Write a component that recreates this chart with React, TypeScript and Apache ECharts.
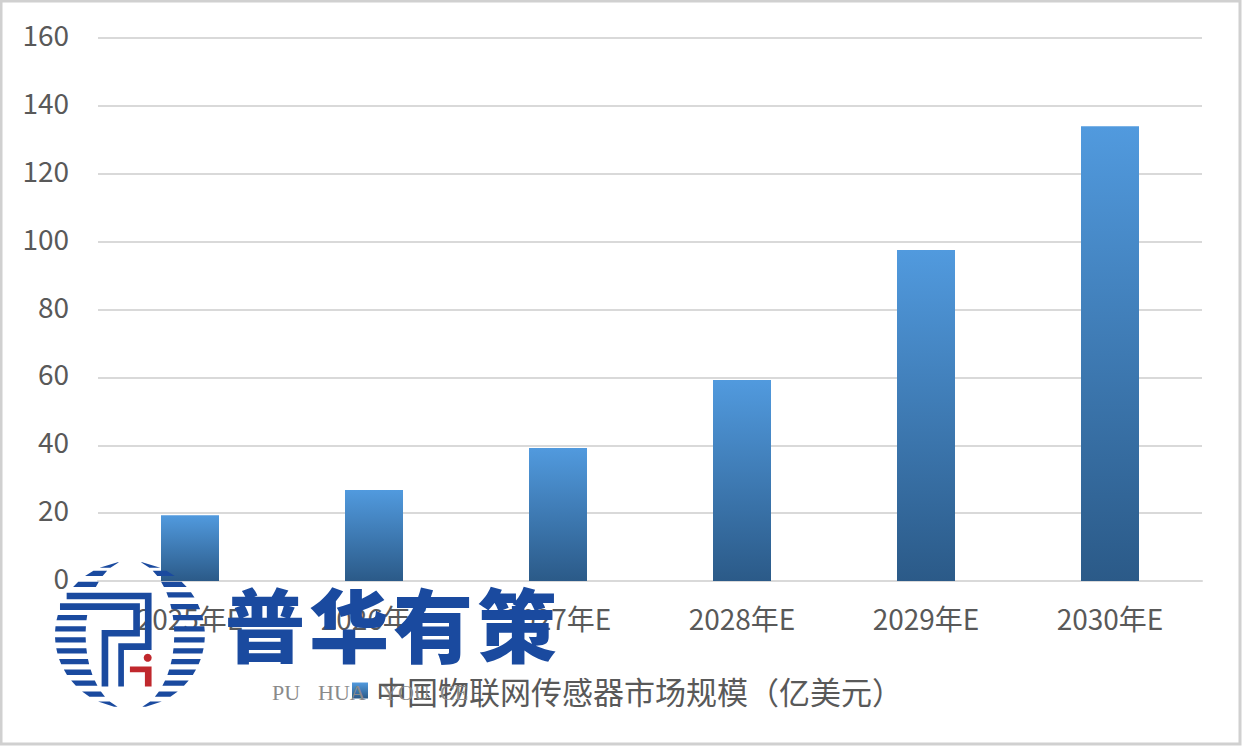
import React, { useEffect, useRef } from "react";
import * as echarts from "echarts";

const categories = ["2025年E", "2026年E", "2027年E", "2028年E", "2029年E", "2030年E"];
const marketSize = [19.4, 26.8, 39.2, 59.2, 97.5, 134];
const seriesName = "中国物联网传感器市场规模（亿美元）";
const logoChars = ["普", "华", "有", "策"];
const logoSubWords = ["PU", "HUA", "YOU", "CE"];
const logoSubX = [272, 318, 382, 440];

const stripeRows = [30, 55, 88, 120, 155, 188, 222, 255, 288, 320, 352, 385, 418, 448];

function stripesPath() {
  const cx = 240, cy = 240;
  const half = (y: number, rx: number, ry: number) => rx * Math.sqrt(Math.max(0, 1 - ((y - cy) / ry) ** 2));
  let d = "";
  for (const r of stripeRows) {
    const y0 = r - 8, y1 = r + 8;
    const o0 = half(y0, 225, 221), o1 = half(y1, 225, 221);
    const i0 = half(y0, 133, 225), i1 = half(y1, 133, 225);
    d += `M${cx + i0} ${y0}L${cx + o0} ${y0}L${cx + o1} ${y1}L${cx + i1} ${y1}Z`;
    if (r !== 120 && r !== 155) {
      d += `M${cx - o0} ${y0}L${cx - i0} ${y0}L${cx - i1} ${y1}L${cx - o1} ${y1}Z`;
    }
  }
  return d;
}

const pLines =
  "M50 113H305V285H222V395H205V265H285V133H50Z M30 145H270V245H175V395H155V225H250V165H30Z";
const redI = "M240 335H305V395H285V352H240Z";

echarts.graphic.registerShape("logoBlue", echarts.graphic.extendPath(stripesPath() + pLines, {}));
echarts.graphic.registerShape("logoRed", echarts.graphic.extendPath(redI, {}));

export default function App() {
  const ref = useRef<HTMLDivElement>(null);
  useEffect(() => {
    document.body.style.margin = "0";
    const chart = echarts.init(ref.current!, undefined, { renderer: "svg" });
    const font = '"Noto Sans CJK SC", "Noto Sans", sans-serif';
    const blue = "#1a4a9f";
    chart.setOption({
      animation: false,
      backgroundColor: "#ffffff",
      grid: { left: 98, right: 40, top: 38, bottom: 165 },
      legend: {
        left: 347,
        top: 670,
        itemWidth: 16,
        itemHeight: 16,
        icon: "rect",
        data: [seriesName],
        textStyle: { fontFamily: font, fontSize: 31, color: "#595959", padding: [0, 0, 0, 3] },
      },
      xAxis: {
        type: "category",
        data: categories,
        axisLine: { lineStyle: { color: "#d9d9d9", width: 2 } },
        axisTick: { show: false },
        axisLabel: { fontFamily: font, fontSize: 28, color: "#595959", margin: 23 },
      },
      yAxis: {
        type: "value",
        min: 0,
        max: 160,
        interval: 20,
        axisLine: { show: false },
        axisTick: { show: false },
        axisLabel: {
          fontFamily: font,
          fontSize: 28,
          color: "#595959",
          margin: 29,
          verticalAlign: "bottom",
          lineHeight: 8,
        },
        splitLine: { lineStyle: { color: "#d9d9d9", width: 2 } },
      },
      series: [
        {
          type: "bar",
          name: seriesName,
          data: marketSize,
          barWidth: 58,
          itemStyle: {
            color: new echarts.graphic.LinearGradient(0, 0, 0, 1, [
              { offset: 0, color: "#519ade" },
              { offset: 1, color: "#2b5a88" },
            ]),
          },
        },
      ],
      graphic: [
        {
          type: "rect",
          silent: true,
          z: 50,
          shape: { x: 1, y: 1, width: 1239, height: 743 },
          style: { fill: "none", stroke: "#d0d0d0", lineWidth: 3 },
        },
        { type: "logoBlue", x: 50, y: 555, scaleX: 1 / 3, scaleY: 1 / 3, z: 100, style: { fill: blue } },
        { type: "logoRed", x: 50, y: 555, scaleX: 1 / 3, scaleY: 1 / 3, z: 100, style: { fill: "#c0282d" } },
        { type: "circle", z: 100, shape: { cx: 147.7, cy: 657.7, r: 4 }, style: { fill: "#c0282d" } },
        ...logoChars.map((c, i) => ({
          type: "text",
          z: 100,
          x: 265 + i * 84,
          y: 621,
          style: {
            text: c,
            font: `900 80px ${font}`,
            fill: blue,
            align: "center",
            verticalAlign: "middle",
          },
        })),
        ...logoSubWords.map((w, i) => ({
          type: "text",
          z: 5,
          x: logoSubX[i],
          y: 692,
          style: {
            text: w,
            font: '22px "Liberation Serif", serif',
            fill: "#8a8a8a",
            align: "left",
            verticalAlign: "middle",
          },
        })),
      ],
    });
    return () => chart.dispose();
  }, []);
  return <div ref={ref} style={{ position: "fixed", left: 0, top: 0, width: 1242, height: 746 }} />;
}
